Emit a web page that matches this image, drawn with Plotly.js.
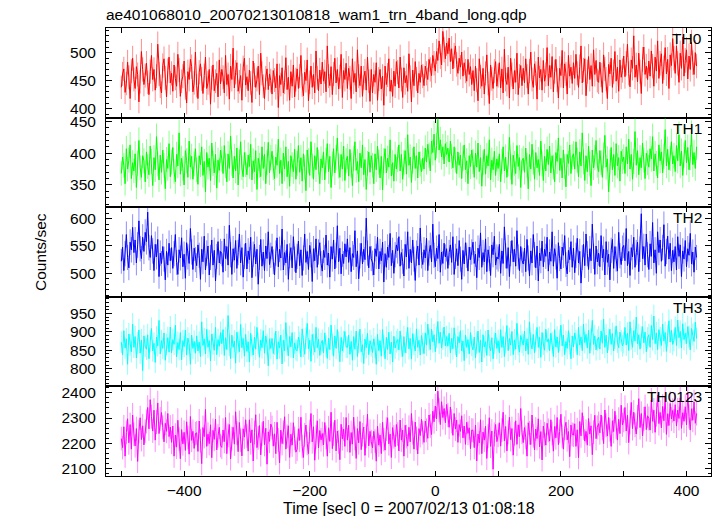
<!DOCTYPE html>
<html>
<head>
<meta charset="utf-8">
<script src="https://cdn.plot.ly/plotly-3.0.1.min.js"></script>
<style>html,body{margin:0;padding:0;background:#fff;}#plot{width:717px;height:516px;}</style>
</head>
<body>
<div id="plot"></div>
<script>
// Light-curve bins: start time (s) and bin width (s)
const tStart = -500;
const tBin = 2;

const panelNames = ["TH0", "TH1", "TH2", "TH3", "TH0123"];

const th0 = [
438,462,471,429,445,483,456,418,467,490,452,436,475,461,412,448,502,470,443,459,
481,447,425,466,495,452,470,433,458,515,462,440,428,477,489,455,421,468,492,446,
463,431,478,454,440,497,469,422,449,458,485,437,410,466,452,488,475,430,446,501,
441,418,465,480,453,427,459,492,436,446,470,408,455,478,432,449,463,421,487,444,
470,456,428,495,443,461,417,476,452,508,437,465,482,431,448,459,415,473,490,442,
457,432,469,446,411,485,460,438,452,476,425,499,463,440,418,455,471,434,462,450,
426,468,451,437,480,402,459,443,473,428,447,491,434,456,415,466,440,478,421,452,
471,436,458,495,442,423,465,450,487,414,447,476,438,461,428,503,455,432,469,444,
483,449,466,430,512,458,441,475,425,462,490,446,470,435,457,497,420,468,452,481,
436,472,455,418,489,447,463,430,505,458,441,476,422,455,467,433,492,449,413,470,
428,461,447,482,415,453,470,435,458,406,476,443,460,489,431,451,422,467,440,484,
465,437,492,452,420,473,446,459,431,498,456,412,469,441,484,453,428,463,447,478,
458,441,476,463,452,488,470,459,495,481,467,502,486,521,493,478,538,505,489,517,
498,526,484,507,471,495,512,479,463,490,474,501,458,482,467,449,488,461,475,443,
468,432,476,451,414,489,457,440,472,426,463,496,445,409,478,453,436,467,484,440,
459,482,437,471,428,506,452,443,474,419,490,461,435,468,447,499,425,458,477,441,
472,446,489,458,426,467,501,452,438,480,463,417,492,455,470,433,486,449,461,509,
441,477,456,493,430,466,488,451,419,472,459,504,437,480,462,426,495,458,474,445,
482,454,497,463,438,475,512,446,469,489,423,466,493,452,477,440,505,461,486,450,
447,483,460,429,496,471,453,418,479,462,490,438,466,502,449,474,431,487,456,468,
494,457,481,515,463,439,487,472,530,456,478,448,499,466,427,488,510,461,476,452,
485,458,503,476,440,492,467,521,454,481,498,445,473,509,462,488,436,496,477,525,
490,463,512,481,447,499,472,528,458,486,505,453,494,470,518,482,461,500,476
];

const th1 = [
368,394,381,352,407,375,389,413,360,385,372,399,346,384,420,377,362,396,388,355,
402,379,366,411,387,349,393,374,426,383,358,397,370,405,381,344,390,376,415,363,
386,409,371,355,398,380,432,367,392,376,350,404,388,362,419,378,395,359,383,407,
374,351,396,382,410,365,387,339,401,378,392,357,416,384,369,398,345,389,373,405,
391,368,412,380,355,399,376,427,384,361,395,372,408,350,386,418,377,363,401,382,
366,397,379,414,358,388,371,404,343,392,381,363,410,376,398,352,385,417,369,393,
403,377,360,394,381,422,368,389,352,400,375,410,363,387,348,396,382,371,406,359,
384,412,370,393,356,399,378,341,405,388,365,418,380,359,396,374,409,386,352,391,
377,402,358,389,415,371,395,346,383,407,369,393,424,380,362,398,375,411,357,388,
395,364,406,381,349,392,418,373,387,355,400,377,413,366,390,343,384,402,370,396,
381,352,399,374,411,386,361,395,342,388,407,369,392,378,421,364,385,356,398,375,
390,413,372,398,359,385,404,367,429,381,394,354,388,410,376,396,361,402,383,371,
392,375,408,386,414,397,372,419,401,430,389,412,453,405,421,394,410,383,415,398,
408,386,419,395,377,410,389,368,402,381,397,360,392,413,374,388,352,396,379,405,
387,362,400,378,416,371,393,348,385,406,367,396,380,421,358,389,374,403,365,391,
376,399,355,387,410,372,394,362,383,425,378,351,397,384,368,412,379,393,346,388,
392,370,408,381,344,398,375,414,386,359,401,377,390,365,419,383,357,395,372,406,
382,411,369,396,378,355,401,387,424,373,392,361,405,379,347,398,384,413,368,394,
399,375,418,389,363,402,380,432,386,357,396,371,411,383,349,405,377,393,420,381,
371,404,385,362,397,428,378,391,339,386,409,374,398,365,415,380,393,356,403,387,
394,368,410,383,422,375,398,359,387,434,381,404,366,393,377,416,389,360,400,385,
378,407,391,426,372,399,384,361,413,388,402,369,395,437,380,406,374,392,418,383,
396,371,412,388,429,380,403,365,397,420,385,409,374,393,431,382,401,376,410
];

const th2 = [
522,548,505,536,571,529,510,557,543,584,538,561,519,552,596,545,527,566,540,575,
558,612,547,529,569,541,505,553,530,562,494,537,518,549,526,488,540,515,555,523,
547,509,536,571,520,498,543,528,565,512,535,491,556,530,518,582,539,507,546,525,
514,552,533,489,544,521,568,506,537,550,497,529,561,515,542,486,531,558,519,540,
536,502,563,527,549,515,588,534,498,545,524,560,509,538,572,519,547,493,531,555,
508,541,525,566,492,535,553,517,544,480,529,562,513,539,505,550,527,576,516,533,
549,521,497,537,565,512,544,528,581,506,538,519,553,489,532,547,510,567,526,501,
531,559,514,543,496,528,572,520,540,507,551,534,485,545,523,563,511,539,556,518,
504,542,529,570,515,537,493,549,526,561,508,533,587,521,546,499,535,518,554,530,
563,520,547,503,536,529,578,512,541,490,532,555,517,544,525,601,537,510,549,527,
519,497,545,531,566,508,540,523,557,484,536,511,548,529,573,514,542,500,534,552,
541,567,513,538,522,495,553,530,576,509,544,519,561,526,487,537,550,515,583,532,
516,543,528,564,505,537,551,521,590,533,512,546,527,571,502,539,518,555,530,545,
509,538,552,520,567,498,531,545,514,560,526,489,542,517,556,533,504,548,525,539,
557,518,535,492,546,529,574,511,538,521,563,503,543,527,496,552,534,568,515,530,
526,553,500,541,518,585,532,509,547,494,536,560,521,544,513,578,530,505,549,524,
517,546,503,562,528,495,541,519,571,534,510,550,486,537,523,559,512,544,531,566,
504,539,522,576,513,545,530,491,556,527,508,548,533,569,516,499,542,525,558,511,
546,501,533,564,519,540,482,529,553,514,572,536,507,545,523,590,531,498,550,521,
537,512,569,528,544,497,558,520,535,488,542,562,509,549,526,504,575,532,516,546,
551,523,582,514,540,496,547,530,566,511,538,557,503,544,609,527,549,515,572,534,
507,554,531,593,519,543,500,576,538,561,522,547,589,513,540,568,526,555,505,542,
521,549,506,567,531,552,494,541,526,560,512,545,533,573,517,539,502,548,529
];

const th3 = [
872,838,903,856,881,812,894,865,846,921,858,887,829,870,905,842,878,795,889,861,
853,892,827,874,909,848,869,817,886,862,931,840,876,855,897,823,866,884,845,913,
843,879,866,918,832,871,852,898,824,876,860,905,837,883,868,812,891,855,874,842,
889,848,872,833,927,863,881,840,907,858,876,821,894,867,850,912,838,879,861,898,
868,906,836,884,852,944,863,827,891,858,875,815,899,871,846,920,857,882,834,893,
847,873,818,896,862,837,886,853,912,869,831,878,857,903,842,889,866,808,881,855,
882,841,867,902,826,873,856,891,813,877,848,925,864,835,887,859,898,829,870,851,
849,886,871,832,908,861,839,882,923,854,877,820,893,866,845,912,857,880,836,868,
877,843,897,861,828,883,852,918,866,834,889,855,906,872,819,885,848,873,901,859,
858,891,839,874,823,887,853,902,833,871,907,846,865,814,880,857,896,838,876,862,
844,881,858,812,893,849,876,834,906,863,827,885,852,899,840,872,818,888,856,873,
879,851,902,861,833,887,843,871,912,854,882,826,895,866,848,908,858,877,837,890,
868,841,897,864,921,879,852,907,873,892,846,885,928,869,899,856,881,913,862,887,
861,896,843,882,854,911,866,832,887,870,903,848,875,822,891,858,879,840,898,863,
851,886,829,871,902,844,877,818,892,859,873,836,905,863,848,884,827,869,897,855,
876,843,906,858,887,833,871,917,849,882,864,901,838,878,853,923,866,845,890,872,
864,902,848,881,839,927,869,854,893,843,876,912,858,885,831,898,867,850,907,873,
881,849,896,871,833,906,859,886,844,877,918,862,891,838,874,855,903,868,827,889,
859,897,876,838,912,864,886,849,921,871,893,856,904,842,880,931,866,889,851,877,
886,853,902,869,934,858,891,843,879,907,866,895,848,883,916,872,857,899,876,862,
871,912,864,896,849,927,881,858,903,875,940,867,892,853,886,914,870,899,846,883,
892,858,917,879,943,868,897,852,906,884,863,921,875,898,847,889,930,872,904,866,
877,912,863,932,884,901,856,922,879,896,868,914,887,851,909,893,874,926,882
];

const th0123 = [
2218,2182,2265,2148,2243,2297,2201,2274,2176,2312,2235,2189,2258,2127,2246,2301,2214,2269,2193,2248,
2286,2342,2257,2373,2305,2248,2331,2212,2284,2360,2238,2296,2322,2263,2205,2279,2247,2318,2226,2264,
2203,2268,2148,2232,2184,2291,2216,2138,2254,2197,2243,2171,2285,2222,2156,2306,2211,2247,2179,2238,
2241,2167,2288,2209,2118,2262,2226,2334,2187,2236,2198,2273,2142,2251,2215,2296,2173,2229,2263,2190,
2183,2252,2206,2302,2158,2231,2274,2137,2218,2263,2196,2325,2240,2166,2282,2211,2149,2257,2224,2293,
2228,2168,2293,2201,2253,2129,2242,2313,2182,2221,2270,2153,2236,2287,2194,2259,2116,2245,2207,2276,
2262,2188,2237,2158,2283,2213,2121,2252,2198,2243,2305,2176,2227,2269,2143,2235,2192,2281,2219,2164,
2176,2257,2211,2303,2187,2143,2233,2272,2199,2158,2246,2318,2205,2265,2132,2224,2289,2181,2250,2213,
2238,2193,2282,2223,2148,2261,2207,2323,2178,2236,2291,2169,2248,2204,2134,2275,2217,2256,2187,2302,
2212,2271,2163,2242,2196,2303,2219,2139,2258,2201,2286,2174,2233,2264,2151,2227,2315,2189,2247,2206,
2181,2247,2208,2128,2267,2192,2232,2158,2283,2214,2172,2256,2301,2197,2236,2143,2262,2225,2186,2274,
2236,2169,2292,2212,2252,2148,2271,2226,2188,2263,2205,2318,2241,2176,2284,2219,2157,2258,2230,2295,
2242,2203,2288,2251,2219,2312,2268,2234,2327,2285,2348,2296,2407,2331,2274,2365,2302,2338,2281,2354,
2312,2263,2344,2287,2231,2318,2256,2292,2203,2274,2247,2309,2221,2268,2195,2283,2239,2261,2178,2252,
2251,2182,2272,2129,2236,2201,2293,2158,2244,2212,2267,2139,2228,2301,2187,2248,2096,2235,2274,2206,
2231,2281,2188,2252,2323,2209,2266,2169,2242,2303,2214,2258,2152,2237,2289,2195,2273,2226,2338,2243,
2202,2262,2223,2148,2281,2241,2194,2312,2229,2173,2256,2218,2297,2185,2246,2133,2268,2237,2192,2279,
2251,2208,2293,2238,2168,2266,2221,2302,2194,2247,2315,2227,2176,2259,2283,2213,2246,2146,2272,2235,
2232,2277,2187,2253,2142,2286,2229,2321,2261,2208,2247,2192,2298,2236,2269,2154,2244,2311,2218,2263,
2278,2241,2312,2259,2198,2332,2271,2228,2302,2253,2187,2289,2246,2327,2264,2212,2295,2238,2351,2273,
2291,2342,2248,2311,2202,2283,2362,2258,2323,2271,2236,2304,2377,2262,2318,2229,2296,2345,2254,2309,
2298,2252,2371,2287,2331,2243,2313,2392,2278,2322,2261,2346,2289,2384,2235,2317,2270,2358,2296,2330,
2288,2353,2268,2332,2298,2381,2259,2321,2287,2345,2273,2399,2306,2252,2337,2291,2364,2279,2318
];

const series = [th0, th1, th2, th3, th0123];
const lineColors = ["#ff0000", "#00ff00", "#0000ff", "#00ffff", "#ff00ff"];
const errColors = ["rgba(255,0,0,0.45)", "rgba(0,255,0,0.45)", "rgba(0,0,255,0.45)", "rgba(0,255,255,0.45)", "rgba(255,0,255,0.45)"];
const yRanges = [[384, 544], [315, 456], [457, 621], [752, 995], [2069, 2426]];
const yMajor = [50, 50, 50, 50, 100];
const yMinor = [10, 10, 10, 10, 20];

const FONT = "Liberation Sans, Arial, Helvetica, sans-serif";
const traces = [];
const layout = {
  width: 717, height: 516,
  margin: {l: 106, r: 6, t: 28, b: 40},
  paper_bgcolor: "#fff", plot_bgcolor: "#fff",
  showlegend: false,
  font: {family: FONT, size: 15.5, color: "#000"},
  title: {text: "ae401068010_20070213010818_wam1_trn_4band_long.qdp",
          x: 106/717, xanchor: "left", y: 1 - 15/516, yanchor: "middle",
          font: {family: FONT, size: 15.5, color: "#000"}},
  annotations: []
};

for (let k = 0; k < 5; k++) {
  const n = k + 1;
  const xa = n === 1 ? "x" : "x" + n;
  const ya = n === 1 ? "y" : "y" + n;
  const vals = series[k];
  const times = vals.map((_, i) => tStart + i * tBin);
  traces.push({
    x: times, y: vals, xaxis: xa, yaxis: ya,
    type: "scatter", mode: "lines",
    line: {color: lineColors[k], width: 1},
    error_y: {type: "sqrt", visible: true, color: errColors[k], thickness: 1, width: 0},
    hoverinfo: "skip"
  });
  const top = 1 - k * 0.2, bot = 1 - (k + 1) * 0.2;
  const xcfg = {
    anchor: ya, range: [-524.4, 439], domain: [0, 1],
    showline: true, linecolor: "#000", linewidth: 1, mirror: "ticks",
    ticks: "inside", ticklen: 5, tickcolor: "#000", tickwidth: 1,
    dtick: 200, tick0: 0,
    minor: {dtick: 100, tick0: 0, ticks: "inside", ticklen: 5, tickcolor: "#000", tickwidth: 1, showgrid: false},
    showgrid: false, zeroline: false,
    showticklabels: n === 5, ticklabelstandoff: 0,
    tickfont: {family: FONT, size: 15.5, color: "#000"}
  };
  if (n !== 1) xcfg.matches = "x";
  layout["xaxis" + (n === 1 ? "" : n)] = xcfg;
  layout["yaxis" + (n === 1 ? "" : n)] = {
    anchor: xa, domain: [Math.max(0, bot), Math.min(1, top)], range: yRanges[k],
    showline: true, linecolor: "#000", linewidth: 1, mirror: "ticks",
    ticks: "inside", ticklen: 6, tickcolor: "#000", tickwidth: 1,
    dtick: yMajor[k], tick0: 0,
    minor: {dtick: yMinor[k], tick0: 0, ticks: "inside", ticklen: 3, tickcolor: "#000", tickwidth: 1, showgrid: false},
    showgrid: false, zeroline: false,
    ticklabelstandoff: 6,
    tickfont: {family: FONT, size: 15.5, color: "#000"}
  };
  layout.annotations.push({
    text: panelNames[k], xref: xa + " domain", yref: ya + " domain",
    x: 0.988, y: 1 - 10.5/89.6, xanchor: "right", yanchor: "middle",
    showarrow: false, font: {family: FONT, size: 15.5, color: "#000"}
  });
}

layout.annotations.push({
  text: "Time [sec] 0 = 2007/02/13 01:08:18", xref: "paper", yref: "paper",
  x: 0.5, y: (476 - 508) / 448, xanchor: "center", yanchor: "middle",
  showarrow: false, font: {family: FONT, size: 16, color: "#000"}
});
layout.annotations.push({
  text: "Counts/sec", xref: "paper", yref: "paper",
  x: (40 - 106) / 605, y: 0.5, xanchor: "center", yanchor: "middle", textangle: -90,
  showarrow: false, font: {family: FONT, size: 15.5, color: "#000"}
});

Plotly.newPlot("plot", traces, layout, {displayModeBar: false, staticPlot: true});
</script>
</body>
</html>
